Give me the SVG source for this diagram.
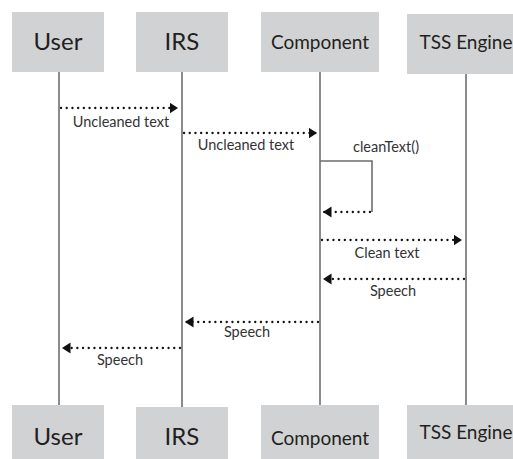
<svg xmlns="http://www.w3.org/2000/svg" width="513" height="459" viewBox="0 0 513 459">
  <style>
    .box { fill: #d1d2d4; }
    .name { font-family: Lato, "Open Sans", sans-serif; fill: #231f20; text-anchor: middle; }
    .big { font-size: 24px; }
    .mid { font-size: 19px; }
    .lifeline { stroke: #6d6e70; stroke-width: 1.6; fill: none; }
    .msg { stroke: #111; stroke-width: 2.3; stroke-linecap: round; stroke-dasharray: 0.1 5.6; fill: none; marker-end: url(#head); }
    .loop { stroke: #6d6e70; stroke-width: 1.6; fill: none; }
    .label { font-family: Lato, "Open Sans", sans-serif; font-size: 14.5px; fill: #333335; text-anchor: middle; }
  </style>
  <defs>
    <marker id="head" markerUnits="userSpaceOnUse" markerWidth="10" markerHeight="12" refX="8.5" refY="5.5" orient="auto">
      <path d="M0,0 L8.5,5.5 L0,11 Z" fill="#111"/>
    </marker>
  </defs>

  <rect width="513" height="459" fill="#fff"/>

  <!-- lifelines -->
  <g id="lifelines">
    <line class="lifeline" x1="59" y1="72" x2="59" y2="405"/>
    <line class="lifeline" x1="182" y1="72" x2="182" y2="407"/>
    <line class="lifeline" x1="320" y1="72" x2="320" y2="405"/>
    <line class="lifeline" x1="466" y1="74" x2="466" y2="405"/>
  </g>

  <!-- participants, top -->
  <g id="user-top">
    <rect class="box" x="12" y="12" width="92" height="60"/>
    <text class="name big" x="58" y="50">User</text>
  </g>
  <g id="irs-top">
    <rect class="box" x="136" y="12" width="92" height="60"/>
    <text class="name big" x="182" y="50">IRS</text>
  </g>
  <g id="component-top">
    <rect class="box" x="261" y="12" width="118" height="60"/>
    <text class="name mid" x="320" y="49">Component</text>
  </g>
  <g id="tss-top">
    <rect class="box" x="407" y="14" width="106" height="60"/>
    <text class="name mid" x="466" y="49">TSS Engine</text>
  </g>

  <!-- participants, bottom -->
  <g id="user-bottom">
    <rect class="box" x="12" y="405" width="92" height="54"/>
    <text class="name big" x="58" y="445">User</text>
  </g>
  <g id="irs-bottom">
    <rect class="box" x="136" y="407" width="92" height="52"/>
    <text class="name big" x="182" y="445">IRS</text>
  </g>
  <g id="component-bottom">
    <rect class="box" x="261" y="405" width="118" height="54"/>
    <text class="name mid" x="320" y="445">Component</text>
  </g>
  <g id="tss-bottom">
    <rect class="box" x="407" y="405" width="106" height="54"/>
    <text class="name mid" x="466" y="439">TSS Engine</text>
  </g>

  <!-- messages -->
  <g id="messages">
    <line class="msg" x1="61" y1="108" x2="178" y2="108"/>
    <text class="label" x="121" y="127">Uncleaned text</text>

    <line class="msg" x1="184" y1="133" x2="317" y2="133"/>
    <text class="label" x="246" y="150">Uncleaned text</text>

    <polyline class="loop" points="320,161 372,161 372,212"/>
    <line class="msg" x1="370" y1="212" x2="323" y2="212"/>
    <text class="label" x="386" y="152">cleanText()</text>

    <line class="msg" x1="322" y1="240" x2="462" y2="240"/>
    <text class="label" x="387" y="258">Clean text</text>

    <line class="msg" x1="464" y1="279" x2="323" y2="279"/>
    <text class="label" x="393" y="296">Speech</text>

    <line class="msg" x1="318" y1="322" x2="185" y2="322"/>
    <text class="label" x="247" y="337">Speech</text>

    <line class="msg" x1="180" y1="348" x2="62" y2="348"/>
    <text class="label" x="120" y="365">Speech</text>
  </g>
</svg>
